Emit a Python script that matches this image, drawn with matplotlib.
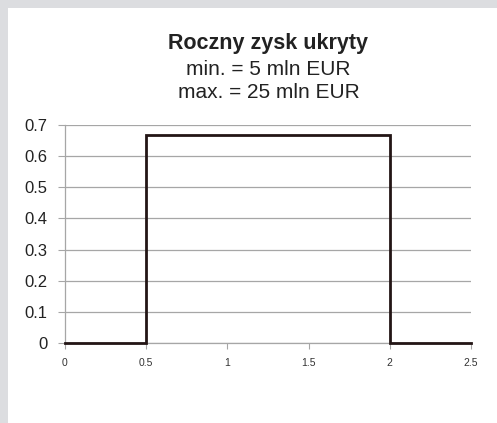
import matplotlib.pyplot as plt
from matplotlib.patches import Rectangle

# rozklad jednostajny, zysk w dziesiatkach mln EUR
x_vals = [0, 0.5, 0.5, 2, 2, 2.5]
y_vals = [0, 0, 0.6667, 0.6667, 0, 0]
x_ticks = [0, 0.5, 1, 1.5, 2, 2.5]
x_tick_labels = ['0', '0.5', '1', '1.5', '2', '2.5']
y_ticks = [0, 0.1, 0.2, 0.3, 0.4, 0.5, 0.6, 0.7]
y_tick_labels = ['0', '0.1', '0.2', '0.3', '0.4', '0.5', '0.6', '0.7']

plt.rcParams['font.family'] = ['Liberation Sans', 'DejaVu Sans']

fig = plt.figure(figsize=(4.97, 4.23), dpi=100)
fig.patch.set_facecolor('white')

# szara ramka u gory i po lewej
fig.patches.append(Rectangle((0, 1 - 8 / 423), 1, 8 / 423, transform=fig.transFigure,
                             facecolor='#dcdde0', edgecolor='none', zorder=0))
fig.patches.append(Rectangle((0, 0), 8 / 497, 1, transform=fig.transFigure,
                             facecolor='#dcdde0', edgecolor='none', zorder=0))

ax = fig.add_axes([65 / 497, 1 - 343 / 423, (471 - 65) / 497, (343 - 125) / 423])
ax.plot(x_vals, y_vals, color='#231515', linewidth=2.0, solid_joinstyle='miter', zorder=3,
        clip_on=False)

ax.set_xlim(0, 2.5)
ax.set_ylim(0, 0.7)
ax.set_xticks(x_ticks)
ax.set_xticklabels(x_tick_labels, fontsize=7.5, color='#333333')
ax.set_yticks(y_ticks)
ax.set_yticklabels(y_tick_labels, fontsize=12, color='#222222')
ax.grid(axis='y', color='#a6a6a6', linewidth=0.9)
ax.set_axisbelow(True)

for side in ['top', 'right']:
    ax.spines[side].set_visible(False)
for side in ['left', 'bottom']:
    ax.spines[side].set_color('#a6a6a6')
    ax.spines[side].set_linewidth(0.9)
ax.tick_params(axis='y', length=5, color='#a6a6a6', pad=7.5)
ax.tick_params(axis='x', length=4, color='#a6a6a6', pad=7)

fig.text(0.54, 1 - 49 / 423, 'Roczny zysk ukryty', ha='center', va='baseline',
         fontsize=15.5, fontweight='bold', color='#222222')
fig.text(0.54, 1 - 75 / 423, 'min. = 5 mln EUR', ha='center', va='baseline',
         fontsize=15, color='#222222')
fig.text(0.54, 1 - 98 / 423, 'max. = 25 mln EUR', ha='center', va='baseline',
         fontsize=15, color='#222222')

fig.savefig('out.png', dpi=100)
